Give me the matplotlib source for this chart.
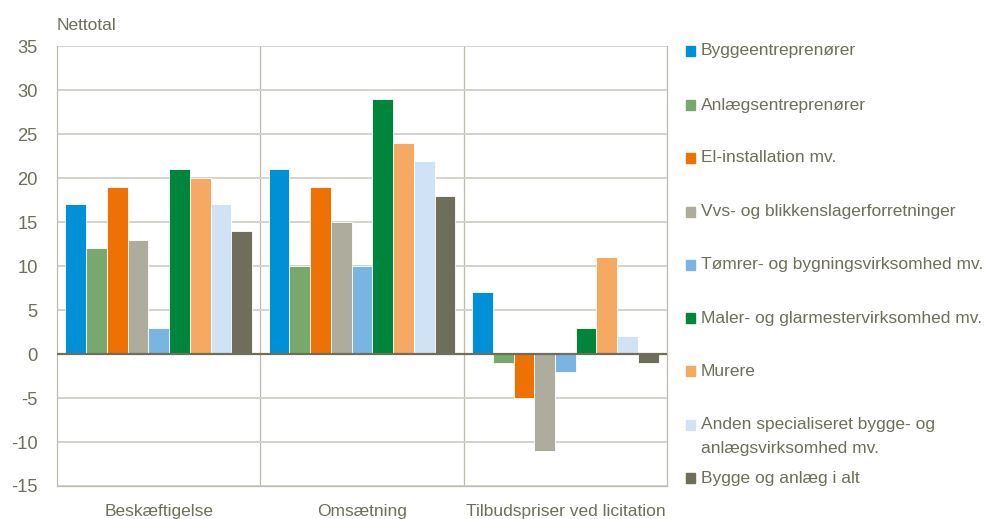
import numpy as np
import matplotlib
matplotlib.use("Agg")
import matplotlib.pyplot as plt
from matplotlib.patches import Rectangle

plt.rcParams['font.family'] = ['Liberation Sans', 'DejaVu Sans']

categories = ["Beskæftigelse", "Omsætning", "Tilbudspriser ved licitation"]
series = [
    "Byggeentreprenører",
    "Anlægsentreprenører",
    "El-installation mv.",
    "Vvs- og blikkenslagerforretninger",
    "Tømrer- og bygningsvirksomhed mv.",
    "Maler- og glarmestervirksomhed mv.",
    "Murere",
    "Anden specialiseret bygge- og\nanlægsvirksomhed mv.",
    "Bygge og anlæg i alt",
]
values = [
    [17, 21, 7],
    [12, 10, -1],
    [19, 19, -5],
    [13, 15, -11],
    [3, 10, -2],
    [21, 29, 3],
    [20, 24, 11],
    [17, 22, 2],
    [14, 18, -1],
]
colors = ["#0090d8", "#78a86e", "#ee7203", "#aeac9c", "#78b5e3",
          "#00853c", "#f5a962", "#d0e2f5", "#6e6e5a"]
yticks = [-15, -10, -5, 0, 5, 10, 15, 20, 25, 30, 35]

txt = "#6e6e5a"
grid = "#d2d0c8"

fig = plt.figure(figsize=(9.87, 5.19), dpi=100)
ax = fig.add_axes([0.0578, 0.0636, 0.618, 0.8475])

x = np.arange(len(categories))
w = 0.102
n = len(series)
for i, (name, vals, c) in enumerate(zip(series, values, colors)):
    ax.bar(x + (i - (n - 1) / 2) * w, vals, width=w, color=c,
           edgecolor="white", linewidth=0.6, zorder=3)

ax.set_xlim(-0.5, len(categories) - 0.5)
ax.set_ylim(-15, 35)
ax.set_yticks(yticks)
ax.set_yticklabels([str(v) for v in yticks])
ax.set_xticks(x)
ax.set_xticklabels(categories)
ax.tick_params(axis="both", length=0, labelsize=12.5, colors=txt)
ax.tick_params(axis="y", labelsize=13.2, pad=14)
ax.tick_params(axis="x", pad=13)

ax.grid(axis="y", color=grid, linewidth=1.3, zorder=0)
for b in x[:-1] + 0.5:
    ax.axvline(b, color="#bdbbb0", linewidth=0.9, zorder=1)
ax.axhline(0, color="#6e6e5a", linewidth=1.6, zorder=4)
for s in ["left", "right", "bottom"]:
    ax.spines[s].set_color("#bdbbb0")
    ax.spines[s].set_linewidth(0.9)
ax.spines["top"].set_visible(False)

fig.text(57 / 987, 1 - 25 / 519, "Nettotal", color=txt, fontsize=12.5,
         ha="left", va="center")

# legend drawn by hand to match spacing
leg_y = [51, 105, 158, 212, 265, 318, 371, 425, 478]
for name, c, yy in zip(series, colors, leg_y):
    yf = 1 - yy / 519
    fig.patches.append(Rectangle((686 / 987, yf - 5 / 519), 9.5 / 987, 10 / 519,
                                 transform=fig.transFigure, color=c))
    lines = name.split("\n")
    for k, ln in enumerate(lines):
        fig.text(701 / 987, yf - k * 24 / 519, ln, color=txt, fontsize=12.5,
                 ha="left", va="center")

fig.savefig("out.png", dpi=100)
